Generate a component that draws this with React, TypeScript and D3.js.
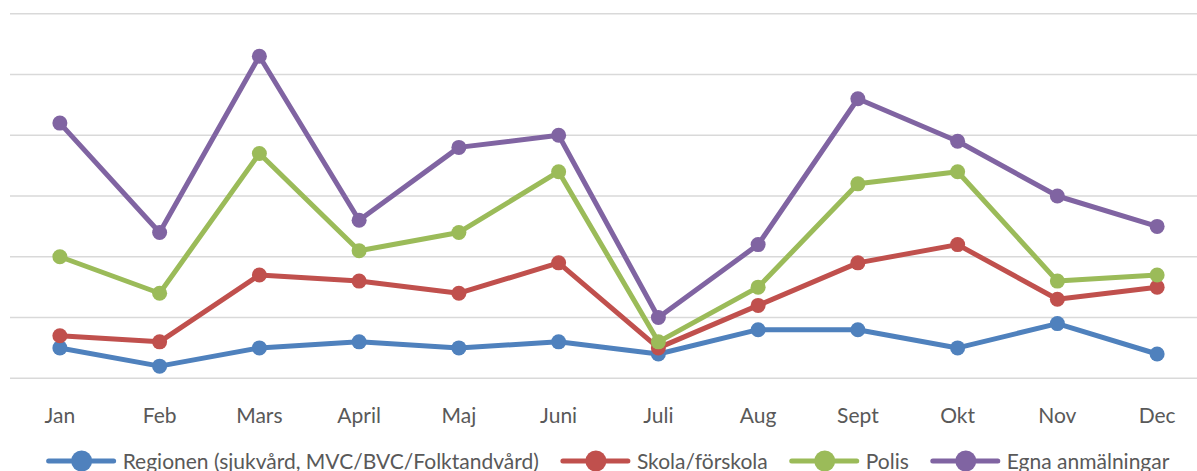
import { useEffect, useRef } from 'react';
import * as d3 from 'd3';

const months = ['Jan', 'Feb', 'Mars', 'April', 'Maj', 'Juni', 'Juli', 'Aug', 'Sept', 'Okt', 'Nov', 'Dec'];
const regionen = [5, 2, 5, 6, 5, 6, 4, 8, 8, 5, 9, 4];
const skola = [7, 6, 17, 16, 14, 19, 5, 12, 19, 22, 13, 15];
const polis = [20, 14, 37, 21, 24, 34, 6, 15, 32, 34, 16, 17];
const egna = [42, 24, 53, 26, 38, 40, 10, 22, 46, 39, 30, 25];
const yTicks = [0, 10, 20, 30, 40, 50, 60];

const SERIES = [
  { name: 'Regionen (sjukvård, MVC/BVC/Folktandvård)', values: regionen, color: '#4F81BD' },
  { name: 'Skola/förskola', values: skola, color: '#C0504D' },
  { name: 'Polis', values: polis, color: '#9BBB59' },
  { name: 'Egna anmälningar', values: egna, color: '#8064A2' },
];

const W = 1197;
const H = 471;
const FONT = 'Lato, "Open Sans", sans-serif';

export default function App() {
  const svgRef = useRef<SVGSVGElement>(null);

  useEffect(() => {
    document.body.style.margin = '0';
    const svg = d3.select(svgRef.current);
    svg.selectAll('*').remove();

    const x = d3.scaleBand<string>().domain(months).range([10, 1207]);
    const y = d3.scaleLinear().domain([0, 60]).range([378.3, 13.7]);
    const cx = (m: string) => (x(m) ?? 0) + x.bandwidth() / 2;

    // gridlines
    svg.append('g').selectAll('line').data(yTicks).join('line')
      .attr('x1', 10).attr('x2', 1207)
      .attr('y1', d => y(d)).attr('y2', d => y(d))
      .attr('stroke', '#d9d9d9').attr('stroke-width', 1.5);

    // month labels
    svg.append('g').selectAll('text').data(months).join('text')
      .attr('x', d => cx(d)).attr('y', 423)
      .attr('text-anchor', 'middle')
      .attr('font-family', FONT).attr('font-size', 21).attr('fill', '#595959')
      .text(d => d);

    const line = d3.line<number>().x((_, i) => cx(months[i])).y(d => y(d));

    SERIES.forEach(s => {
      const g = svg.append('g');
      g.append('path').datum(s.values)
        .attr('d', line).attr('fill', 'none')
        .attr('stroke', s.color).attr('stroke-width', 5)
        .attr('stroke-linejoin', 'round');
      g.selectAll('circle').data(s.values).join('circle')
        .attr('cx', (_, i) => cx(months[i])).attr('cy', d => y(d))
        .attr('r', 7.5).attr('fill', s.color);
    });

    // legend, laid out from measured text widths
    const legend = svg.append('g');
    const items = SERIES.map(s => {
      const it = legend.append('g');
      it.append('line').attr('x1', 0).attr('x2', 65).attr('y1', 0).attr('y2', 0)
        .attr('stroke', s.color).attr('stroke-width', 5).attr('stroke-linecap', 'round');
      it.append('circle').attr('cx', 33).attr('cy', 0).attr('r', 10.5).attr('fill', s.color);
      const t = it.append('text').attr('x', 74).attr('y', 7.5)
        .attr('font-family', FONT).attr('font-size', 21).attr('fill', '#595959')
        .text(s.name);
      const w = 74 + (t.node() as SVGTextElement).getComputedTextLength();
      return { it, w };
    });
    const gap = 24;
    const total = d3.sum(items, d => d.w) + gap * (items.length - 1);
    let pos = 609 - total / 2;
    items.forEach(({ it, w }) => {
      it.attr('transform', `translate(${pos},461)`);
      pos += w + gap;
    });
  }, []);

  return <svg ref={svgRef} width={W} height={H} style={{ display: 'block', background: '#fff' }} />;
}
